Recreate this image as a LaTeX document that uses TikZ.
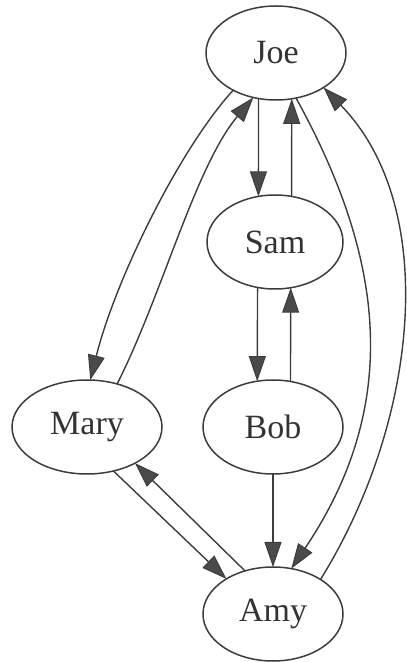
\documentclass[tikz,border=0pt]{standalone}
\usepackage{fontspec}
\setmainfont{Liberation Serif}
\usetikzlibrary{shapes.geometric,arrows.meta}
\definecolor{edgecol}{HTML}{3C3C3C}
\definecolor{tipcol}{HTML}{4A4A4A}
\definecolor{textcol}{HTML}{333333}
\tikzset{
  person/.style={ellipse, draw=edgecol, line width=1.5pt, inner sep=0pt, outer sep=0pt,
    minimum width=140pt, minimum height=94pt, text=textcol,
    font=\fontsize{34}{37}\selectfont},
  link/.style={draw=edgecol, line width=1.4pt,
    -{Triangle[length=25pt,width=17pt,fill=tipcol,line width=1pt]}},
}
\begin{document}
\begin{tikzpicture}[x=1pt,y=1pt]
\useasboundingbox (0,0) rectangle (407,662);
\node[person] (joe)  at (276,609) {Joe};
\node[person, minimum width=136pt] (sam) at (275,420) {Sam};
\node[person, minimum width=150pt] (mary) at (87,235) {Mary};
\node[person] (bob)  at (273,235) {Bob};
\node[person] (amy)  at (273,48) {Amy};

\draw[link] (joe.221) .. controls +(-54,-59) and +(25,100) .. (mary.86);
\draw[link] (mary.55) .. controls +(45,89) and +(-58,-69) .. (joe.243);
\draw[link] (joe.249) -- (sam.110);
\draw[link] (sam.70) -- (joe.289);
\draw[link] (sam.249) -- (bob.109);
\draw[link] (bob.69) -- (sam.289);
\draw[link] (bob.south) -- (amy.north);
\draw[link] (joe.294) .. controls +(86,-156) and +(113,168) .. (amy.68);
\draw[link] (amy.36) .. controls +(98,158) and +(117,-120) .. (joe.324);
\draw[link] (mary.301) -- (amy.143);
\draw[link] (amy.123) -- (mary.323);
\end{tikzpicture}
\end{document}
